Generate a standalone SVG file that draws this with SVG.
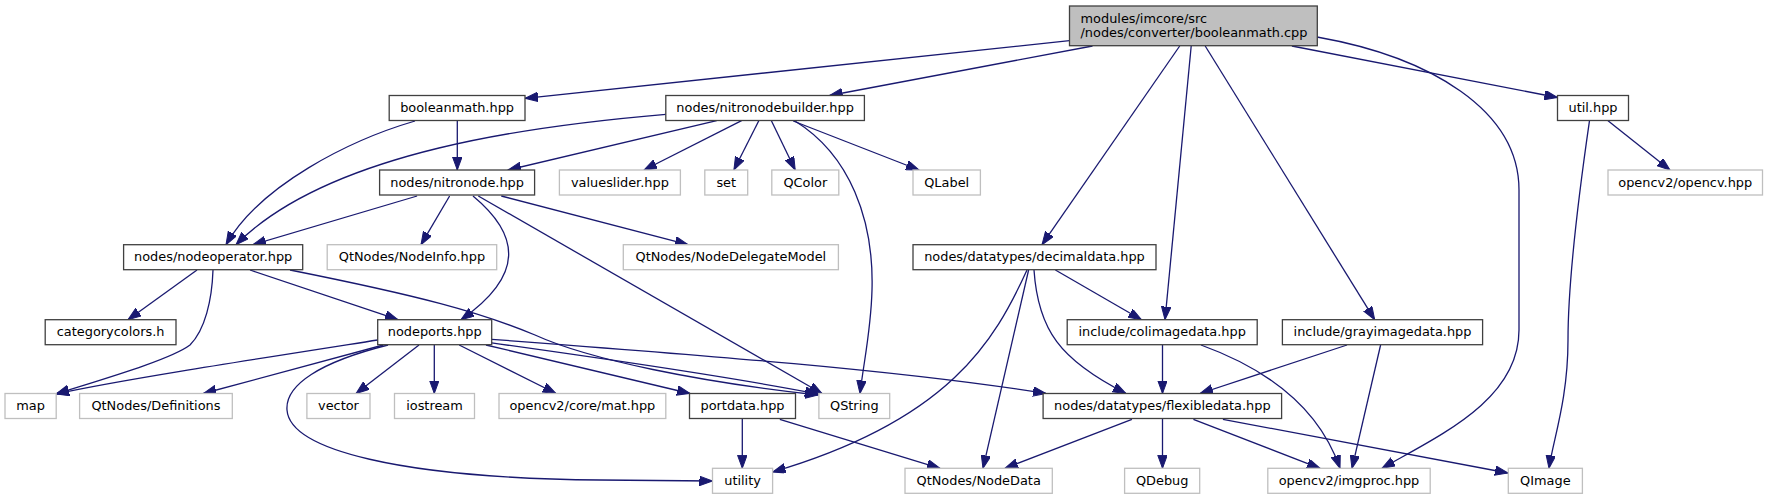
<svg xmlns="http://www.w3.org/2000/svg" width="1768" height="500" viewBox="0 0 1768 500">
<style>
.n rect{fill:#ffffff;stroke:#404040;stroke-width:1.3}
.x rect{fill:#ffffff;stroke:#bfbfbf;stroke-width:1.3}
.r rect{fill:#bfbfbf;stroke:#404040;stroke-width:1.3}
text{font-family:"DejaVu Sans","Liberation Sans",sans-serif;font-size:12.9px;fill:#000000}
.c{text-anchor:middle}
#edges path{fill:none;stroke:#191970;stroke-width:1.3;marker-end:url(#a)}
</style>
<defs>
<marker id="a" markerUnits="userSpaceOnUse" markerWidth="14" markerHeight="10" refX="13" refY="4.75" orient="auto"><path d="M0,0 L13,4.75 L0,9.5 z" fill="#191970" stroke="#191970" stroke-width="1"/></marker>
</defs>
<rect width="1768" height="500" fill="#ffffff"/>
<g id="edges">
<path d="M1069.5,40.7 L525,98.3"/>
<path d="M1092.5,46 L829.6,95.5"/>
<path d="M1179.7,46 L1042,244.7"/>
<path d="M1191.2,46 L1165,319.7"/>
<path d="M1205.2,46 L1374.7,319.7"/>
<path d="M1291.9,46 L1557.5,97.5"/>
<path d="M1317,37 C1430,57 1519,110 1519,190 L1519,330 C1519,400 1440,435 1382,468.3"/>
<path d="M1608,120.7 L1670,170"/>
<path d="M1589.5,120.7 C1578,200 1568,280 1568,340 C1568,400 1553,440 1549,468.3"/>
<path d="M457.3,120.5 L457.3,170"/>
<path d="M415,121 C350,140 260,185 226,244.7"/>
<path d="M665.8,114.3 C540,125 330,150 236,244.7"/>
<path d="M716.7,120.7 L508,170"/>
<path d="M741.6,120.7 L644,170"/>
<path d="M758.8,120.7 L733.9,170"/>
<path d="M771.4,120.7 L795.2,170"/>
<path d="M795,121 C850,155 874,220 872,290 C871,330 864,360 860,393.5"/>
<path d="M793.2,121 L919,170"/>
<path d="M417.1,196 L253,244.7"/>
<path d="M449.6,196 L421,244.7"/>
<path d="M473,196 C520,235 525,275 461,319.7"/>
<path d="M478.3,196 L822,393.5"/>
<path d="M501.3,196 L688,244.7"/>
<path d="M197,270 L128,319.7"/>
<path d="M250,270 L398,319.7"/>
<path d="M213,270 C212,300 205,330 190,345 C170,360 100,380 56,394"/>
<path d="M290,270 C420,296 480,312 535,335 C590,360 700,382 818,395"/>
<path d="M377.7,340 C250,360 120,380 56,394"/>
<path d="M383.3,345 L203.3,393.5"/>
<path d="M419,345 L356,393.5"/>
<path d="M434.3,345 L434.3,393.5"/>
<path d="M459.2,345 L556,393.5"/>
<path d="M486,345 L690,393.5"/>
<path d="M490,342.7 C600,358 720,375 818,394"/>
<path d="M491.7,339.3 C700,355 900,370 1046,393.5"/>
<path d="M388,345 C320,362 285,385 287,410 C290,450 400,478 600,480 L712.5,481"/>
<path d="M742.3,419 L742.3,468.3"/>
<path d="M779.8,419.3 L940,468.3"/>
<path d="M1055.4,270 L1141.5,319.7"/>
<path d="M1034,270 C1038,330 1060,360 1126,393.5"/>
<path d="M1028.6,270 L983,468.3"/>
<path d="M1027,270 C995,340 950,420 772.6,472"/>
<path d="M1162.5,345 L1162.5,393.5"/>
<path d="M1201,345 C1270,370 1320,410 1340,468.3"/>
<path d="M1347,345 L1200,393.5"/>
<path d="M1380.6,345 L1352,468.3"/>
<path d="M1162.5,419 L1162.5,468.3"/>
<path d="M1131.9,419.3 L1005,468.3"/>
<path d="M1193.4,419.3 L1320,468.3"/>
<path d="M1222.9,419.3 L1508,473"/>
</g>
<g id="root" class="r"><rect x="1069.5" y="6" width="247.8" height="39.7"/><text x="1080.5" y="22.5">modules/imcore/src</text><text x="1080.5" y="37">/nodes/converter/booleanmath.cpp</text></g>
<g id="booleanmath" class="n"><rect x="389.2" y="95.5" width="135.8" height="25"/><text class="c" x="457.1" y="112">booleanmath.hpp</text></g>
<g id="nitronodebuilder" class="n"><rect x="665.8" y="95.5" width="198.6" height="25"/><text class="c" x="765.1" y="112">nodes/nitronodebuilder.hpp</text></g>
<g id="util" class="n"><rect x="1557.5" y="95.5" width="71" height="25"/><text class="c" x="1593" y="112">util.hpp</text></g>
<g id="nitronode" class="n"><rect x="379.6" y="170" width="155" height="25"/><text class="c" x="457.1" y="186.5">nodes/nitronode.hpp</text></g>
<g id="valueslider" class="x"><rect x="559.4" y="170" width="121" height="25"/><text class="c" x="619.9" y="186.5">valueslider.hpp</text></g>
<g id="set" class="x"><rect x="704.8" y="170" width="42.9" height="25"/><text class="c" x="726.25" y="186.5">set</text></g>
<g id="qcolor" class="x"><rect x="771.8" y="170" width="67" height="25"/><text class="c" x="805.3" y="186.5">QColor</text></g>
<g id="qlabel" class="x"><rect x="913" y="170" width="67.4" height="25"/><text class="c" x="946.7" y="186.5">QLabel</text></g>
<g id="opencv" class="x"><rect x="1608" y="170" width="154.5" height="25"/><text class="c" x="1685.25" y="186.5">opencv2/opencv.hpp</text></g>
<g id="nodeoperator" class="n"><rect x="123.6" y="244.7" width="179.1" height="25"/><text class="c" x="213.15" y="261.2">nodes/nodeoperator.hpp</text></g>
<g id="nodeinfo" class="x"><rect x="327.2" y="244.7" width="169.5" height="25"/><text class="c" x="411.95" y="261.2">QtNodes/NodeInfo.hpp</text></g>
<g id="nodedelegatemodel" class="x"><rect x="623.3" y="244.7" width="215.1" height="25"/><text class="c" x="730.85" y="261.2">QtNodes/NodeDelegateModel</text></g>
<g id="decimaldata" class="n"><rect x="913" y="244.7" width="243" height="25"/><text class="c" x="1034.5" y="261.2">nodes/datatypes/decimaldata.hpp</text></g>
<g id="categorycolors" class="n"><rect x="45.2" y="319.7" width="130.8" height="25"/><text class="c" x="110.6" y="336.2">categorycolors.h</text></g>
<g id="nodeports" class="n"><rect x="377.7" y="319.7" width="114" height="25"/><text class="c" x="434.7" y="336.2">nodeports.hpp</text></g>
<g id="colimagedata" class="n"><rect x="1067.2" y="319.7" width="190" height="25"/><text class="c" x="1162.2" y="336.2">include/colimagedata.hpp</text></g>
<g id="grayimagedata" class="n"><rect x="1282.4" y="319.7" width="200.2" height="25"/><text class="c" x="1382.5" y="336.2">include/grayimagedata.hpp</text></g>
<g id="map" class="x"><rect x="5" y="393.5" width="51.2" height="25"/><text class="c" x="30.6" y="410">map</text></g>
<g id="definitions" class="x"><rect x="79.6" y="393.5" width="152.7" height="25"/><text class="c" x="155.95" y="410">QtNodes/Definitions</text></g>
<g id="vector" class="x"><rect x="306.9" y="393.5" width="63.1" height="25"/><text class="c" x="338.45" y="410">vector</text></g>
<g id="iostream" class="x"><rect x="394.5" y="393.5" width="80" height="25"/><text class="c" x="434.5" y="410">iostream</text></g>
<g id="mat" class="x"><rect x="499" y="393.5" width="166.8" height="25"/><text class="c" x="582.4" y="410">opencv2/core/mat.hpp</text></g>
<g id="portdata" class="n"><rect x="689.5" y="393.5" width="106" height="25"/><text class="c" x="742.5" y="410">portdata.hpp</text></g>
<g id="qstring" class="x"><rect x="818.9" y="393.5" width="70.8" height="25"/><text class="c" x="854.3" y="410">QString</text></g>
<g id="flexibledata" class="n"><rect x="1043.1" y="393.5" width="238.5" height="25"/><text class="c" x="1162.35" y="410">nodes/datatypes/flexibledata.hpp</text></g>
<g id="utility" class="x"><rect x="712.5" y="468.3" width="60.1" height="25"/><text class="c" x="742.55" y="484.8">utility</text></g>
<g id="nodedata" class="x"><rect x="905" y="468.3" width="147.3" height="25"/><text class="c" x="978.65" y="484.8">QtNodes/NodeData</text></g>
<g id="qdebug" class="x"><rect x="1124.6" y="468.3" width="75.1" height="25"/><text class="c" x="1162.15" y="484.8">QDebug</text></g>
<g id="imgproc" class="x"><rect x="1267.8" y="468.3" width="162.4" height="25"/><text class="c" x="1349" y="484.8">opencv2/imgproc.hpp</text></g>
<g id="qimage" class="x"><rect x="1508.3" y="468.3" width="74.1" height="25"/><text class="c" x="1545.35" y="484.8">QImage</text></g>
</svg>
